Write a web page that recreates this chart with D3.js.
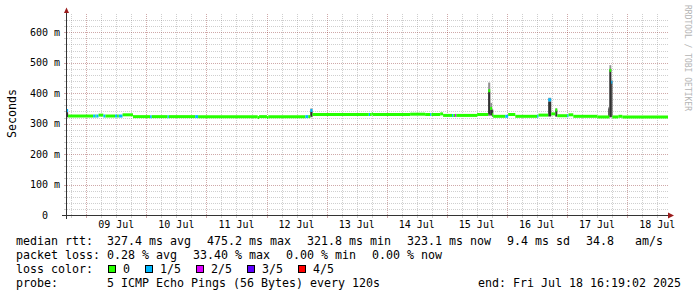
<!DOCTYPE html>
<html>
<head>
<meta charset="utf-8">
<script src="https://cdn.jsdelivr.net/npm/d3@7"></script>
<style>
body { margin: 0; background: #fff; }
text { font-family: "DejaVu Sans Mono", monospace; white-space: pre; }
</style>
</head>
<body>
<svg id="chart" width="697" height="297"></svg>
<script>
//Time window of the graph
const startTime = "07-08 16:19";
const endTime = "07-18 16:19";

//Median rtt (ms), one step per entry, lasting until the next entry; loss is the index in the loss colours
const medianTimes = ["07-08 16:19","07-08 16:45","07-09 02:45","07-09 03:40","07-09 04:00","07-09 04:55","07-09 06:50","07-09 07:40",
  "07-09 11:30","07-09 12:20","07-09 13:00","07-09 14:30","07-09 18:40","07-10 01:30","07-10 02:10","07-10 08:30","07-10 09:00",
  "07-10 19:30","07-10 20:40","07-11 20:30","07-11 21:00","07-12 00:10","07-12 00:40","07-12 15:30","07-12 16:40","07-12 17:30",
  "07-12 18:20","07-13 16:50","07-13 17:20","07-13 18:00","07-13 18:30","07-14 09:20","07-14 15:20","07-14 17:20","07-14 17:50",
  "07-14 21:20","07-14 22:30","07-15 02:05","07-15 02:35","07-15 03:15","07-15 03:45","07-15 12:05","07-15 16:30","07-15 17:20",
  "07-15 18:05","07-15 18:30","07-15 23:20","07-16 00:30","07-16 03:20","07-16 12:05","07-16 12:35","07-16 16:30","07-16 17:40",
  "07-16 19:20","07-16 20:05","07-17 00:05","07-17 00:35","07-17 02:30","07-17 12:05","07-17 16:55","07-17 17:40","07-17 18:05",
  "07-17 20:30","07-17 22:05"];
const medianValues = [343,325,325,325,325,328,325,325,
  325,325,325,329,323,323,323,323,323,
  323,323,320,323,320,323,323,323,343,
  330,330,330,332,330,331,330,330,330,
  332,327,327,327,327,327,330,408,350,
  330,324,324,330,324,324,328,378,332,
  345,326,326,329,324,322,475,436,322,
  324,322];
const medianLoss = [1,0,1,0,1,0,1,0,
  1,0,1,0,0,1,0,1,0,
  1,0,0,0,0,0,1,0,1,
  0,1,0,0,0,0,0,1,0,
  0,0,1,0,2,0,0,0,0,
  0,0,1,0,0,1,0,1,0,
  0,0,1,0,0,0,0,1,0,
  0,0];

//Smoke (ping spread, ms) where it shows outside the median line
const smokeStart = ["07-08 16:19","07-12 17:30","07-15 16:30","07-15 17:20","07-15 18:05","07-16 16:30","07-16 19:20","07-17 16:30","07-17 16:55","07-17 17:40"];
const smokeEnd   = ["07-08 16:45","07-12 18:20","07-15 17:20","07-15 18:05","07-15 18:30","07-16 17:40","07-16 20:05","07-17 16:55","07-17 17:40","07-17 18:05"];
const smokePing1 = [320,321,325,325,322,322,322,320,320,320];
const smokePing2 = [322,323,330,328,324,325,324,322,322,322];
const smokePing4 = [337,340,405,345,345,372,345,350,478,440];
const smokePing5 = [346,350,435,368,348,385,350,355,492,445];

//Loss legend
const lossLabels = ["0","1/5","2/5","3/5","4/5"];
const lossColors = ["#26ff00","#00b8ff","#dd00ff","#5e00ff","#ff0000"];

//Axis ticks
const yMajorTicks = [0,100,200,300,400,500,600];
const yMax = 660;

//Statistics lines
const medianStats = ["327.4","475.2","321.8","323.1","9.4","34.8"];
const lossStats = ["0.28","33.40","0.00","0.00"];
const probeText = "probe:       5 ICMP Echo Pings (56 Bytes) every 120s";
const endText = "end: Fri Jul 18 16:19:02 2025";

const parseTime = d3.timeParse("%Y-%m-%d %H:%M");
const t = s => parseTime("2025-" + s);

const svg = d3.select("#chart");
const plotLeft = 67, plotRight = 668, plotTop = 14, plotBottom = 215;

const x = d3.scaleTime().domain([t(startTime), t(endTime)]).range([plotLeft, plotRight]);
const y = d3.scaleLinear().domain([0, yMax]).range([plotBottom, plotTop]);

const minorColor = "rgba(140,140,140,0.42)";
const majorColor = "rgba(130,30,30,0.38)";

//Vertical grid: every 6 hours, red at midnight
const grid = svg.append("g").attr("shape-rendering", "crispEdges");
const hours = d3.timeHour.every(6).range(t(startTime), t(endTime));
hours.forEach(function(h){
  let px = Math.round(x(h)) + 0.5;
  let major = h.getHours() == 0;
  grid.append("line").attr("x1", px).attr("x2", px).attr("y1", plotTop).attr("y2", plotBottom)
    .attr("stroke", major ? majorColor : minorColor).attr("stroke-dasharray", "1,1");
  grid.append("line").attr("x1", px).attr("x2", px).attr("y1", plotBottom).attr("y2", plotBottom + 3)
    .attr("stroke", major ? majorColor : minorColor);
});

//Horizontal grid: minor every 20 m, red every 100 m
d3.range(20, yMax, 20).forEach(function(v){
  let py = Math.round(y(v)) + 0.5;
  let major = v % 100 == 0;
  grid.append("line").attr("x1", plotLeft).attr("x2", plotRight).attr("y1", py).attr("y2", py)
    .attr("stroke", major ? majorColor : minorColor).attr("stroke-dasharray", "1,1");
  grid.append("line").attr("x1", plotLeft - 3).attr("x2", plotLeft).attr("y1", py).attr("y2", py)
    .attr("stroke", major ? majorColor : minorColor);
});

//Smoke: outer band first, then the darker inner band
const smoke = svg.append("g");
smokeStart.forEach(function(s, i){
  let x0 = x(t(s)), x1 = x(t(smokeEnd[i]));
  smoke.append("rect").attr("x", x0).attr("width", x1 - x0)
    .attr("y", y(smokePing5[i])).attr("height", y(smokePing1[i]) - y(smokePing5[i]))
    .attr("fill", "#919191");
  smoke.append("rect").attr("x", x0).attr("width", x1 - x0)
    .attr("y", y(smokePing4[i])).attr("height", y(smokePing2[i]) - y(smokePing4[i]))
    .attr("fill", "#323232");
});

//Median line, coloured by loss
const med = svg.append("g");
medianTimes.forEach(function(s, i){
  let next = i + 1 < medianTimes.length ? medianTimes[i + 1] : endTime;
  med.append("line")
    .attr("x1", x(t(s))).attr("x2", x(t(next)))
    .attr("y1", y(medianValues[i])).attr("y2", y(medianValues[i]))
    .attr("stroke", lossColors[medianLoss[i]]).attr("stroke-width", 3);
});

//Axes with arrows
const axisColor = "#333";
const arrowColor = "#9b1c1c";
svg.append("line").attr("x1", 62).attr("x2", 670).attr("y1", plotBottom + 0.5).attr("y2", plotBottom + 0.5).attr("stroke", axisColor);
svg.append("line").attr("x1", plotLeft - 0.5).attr("x2", plotLeft - 0.5).attr("y1", 219).attr("y2", 11).attr("stroke", axisColor);
svg.append("path").attr("d", "M668,212.5L674,215.5L668,218.5Z").attr("fill", arrowColor);
svg.append("path").attr("d", "M64,13L66.5,7.5L69,13Z").attr("fill", arrowColor);

//Y labels
svg.selectAll(".ylab").data(yMajorTicks).enter().append("text")
  .attr("class", "ylab")
  .attr("x", 45).attr("y", d => y(d) + 3.5)
  .attr("text-anchor", "middle").attr("font-size", "10px")
  .text(d => d == 0 ? "0" : d + " m");

//X labels at noon of each day
const noons = d3.timeDay.range(t("07-09 00:00"), t(endTime)).map(d => d3.timeHour.offset(d, 12));
svg.selectAll(".xlab").data(noons).enter().append("text")
  .attr("class", "xlab")
  .attr("x", d => x(d)).attr("y", 227.5)
  .attr("text-anchor", "middle").attr("font-size", "10px")
  .text(d3.timeFormat("%d %b"));

//Y title
svg.append("text").attr("transform", "translate(15.5,113.5) rotate(-90)")
  .attr("text-anchor", "middle").attr("font-size", "11.63px").text("Seconds");

//Watermark
svg.append("text").attr("transform", "translate(685,5) rotate(90)")
  .attr("font-size", "8px").attr("fill", "#b4b4b4").text("RRDTOOL / TOBI OETIKER");

//Legend rows: monospace, 7px per character, 2px between items
const charW = 7, glue = 2;
function legendRow(items, baseY){
  let px = 16;
  items.forEach(function(s){
    svg.append("text").attr("x", px).attr("y", baseY).attr("font-size", "11.63px")
      .attr("xml:space", "preserve").text(s);
    px += s.length * charW + glue;
  });
}
legendRow(["median rtt:  " + medianStats[0] + " ms avg", "  " + medianStats[1] + " ms max",
  "  " + medianStats[2] + " ms min", "  " + medianStats[3] + " ms now",
  "  " + medianStats[4] + " ms sd", "  " + medianStats[5] + "   am/s"], 245);
legendRow(["packet loss: " + lossStats[0] + " % avg", "  " + lossStats[1] + " % max",
  "  " + lossStats[2] + " % min", "  " + lossStats[3] + " % now"], 259);
legendRow(["loss color:  "], 273);

let bx = 108;
lossLabels.forEach(function(l, i){
  svg.append("rect").attr("x", bx + 0.5).attr("y", 265.5).attr("width", 7).attr("height", 7)
    .attr("fill", lossColors[i]).attr("stroke", "#000");
  let lx = bx + 15;
  svg.append("text").attr("x", lx).attr("y", 273).attr("font-size", "11.63px").text(l);
  bx = lx + l.length * charW + 15;
});

legendRow([probeText], 287);
svg.append("text").attr("x", 681).attr("y", 287).attr("text-anchor", "end")
  .attr("font-size", "11.63px").text(endText);
</script>
</body>
</html>
